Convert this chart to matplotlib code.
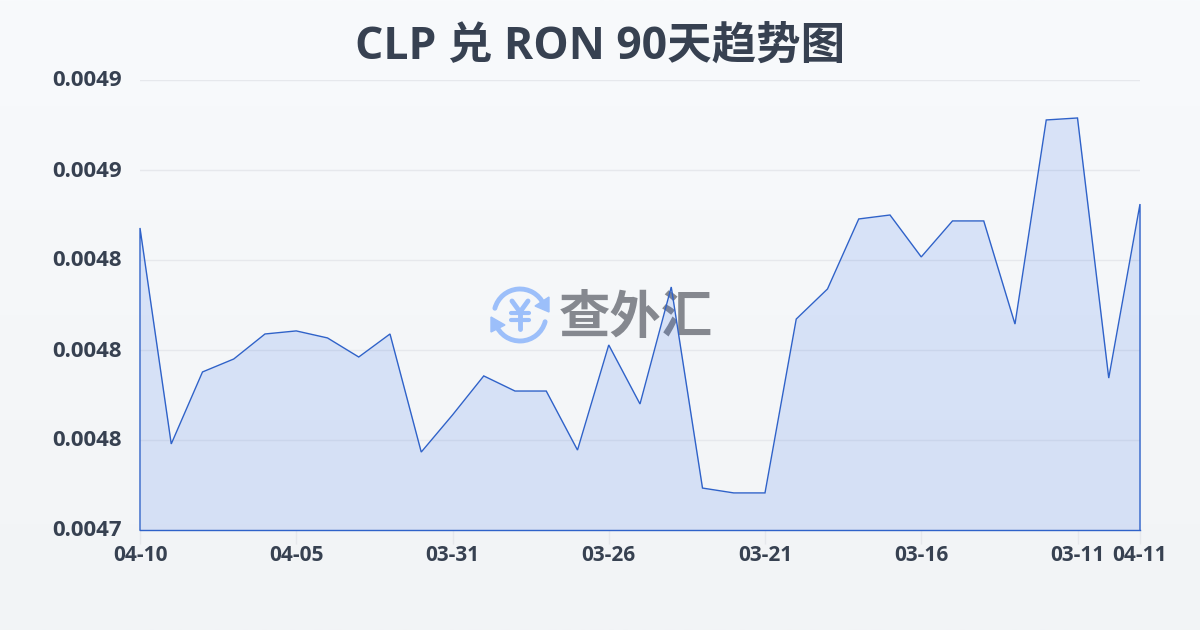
import numpy as np
import matplotlib
matplotlib.use('Agg')
import matplotlib.pyplot as plt
from matplotlib.patches import Arc, Polygon
from matplotlib.transforms import ScaledTranslation

plt.rcParams['font.family'] = ['Open Sans', 'Noto Sans CJK SC', 'DejaVu Sans']

# CLP 兑 RON (ordem do eixo, esquerda para direita)
rates = [0.0048678, 0.0047478, 0.0047878, 0.0047950, 0.0048089, 0.0048106, 0.0048067,
         0.0047961, 0.0048089, 0.0047433, 0.0047639, 0.0047856, 0.0047772, 0.0047772,
         0.0047444, 0.0048028, 0.0047700, 0.0048350, 0.0047233, 0.0047206, 0.0047206,
         0.0048172, 0.0048339, 0.0048728, 0.0048750, 0.0048517, 0.0048717, 0.0048717,
         0.0048144, 0.0049278, 0.0049289, 0.0047844, 0.0048811]
xtick_pos = [0, 5, 10, 15, 20, 25, 30, 32]
xtick_labels = ['04-10', '04-05', '03-31', '03-26', '03-21', '03-16', '03-11', '04-11']
ytick_vals = [0.0047, 0.00475, 0.0048, 0.00485, 0.0049, 0.00495]
ytick_labels = ['0.0047', '0.0048', '0.0048', '0.0048', '0.0049', '0.0049']
title = 'CLP 兑 RON 90天趋势图'
logo_text = '查外汇'

W, H = 1200, 630
fig = plt.figure(figsize=(W / 100, H / 100), dpi=100)

# fundo em gradiente + logo, em coordenadas de pixel
bg = fig.add_axes([0, 0, 1, 1], zorder=0)
bg.set_xlim(0, W)
bg.set_ylim(H, 0)
bg.axis('off')
grad = np.linspace(0, 1, 256).reshape(-1, 1, 1)
top = np.array([0xf8, 0xfa, 0xfc]) / 255
bottom = np.array([0xf2, 0xf4, 0xf6]) / 255
bg.imshow(top + (bottom - top) * grad, extent=[0, W, H, 0], aspect='auto')

logo_blue = '#9cbffa'
cx, cy, r = 520, 315, 26
bg.add_patch(Arc((cx, cy), 2 * r, 2 * r, theta1=195, theta2=335, color=logo_blue, lw=3.5, capstyle='round'))
bg.add_patch(Arc((cx, cy), 2 * r, 2 * r, theta1=15, theta2=160, color=logo_blue, lw=3.5, capstyle='round'))
bg.add_patch(Polygon([[549, 297], [549, 312], [535, 306]], color=logo_blue))
bg.add_patch(Polygon([[491, 317], [491, 332], [505, 325]], color=logo_blue))
# iene desenhado com tracos, a fonte fica fina demais
bg.plot([512, 520, 528], [301, 312, 301], color=logo_blue, lw=3.5, solid_capstyle='round')
bg.plot([520, 520], [312, 329], color=logo_blue, lw=3.5, solid_capstyle='round')
bg.plot([511, 529], [313, 313], color=logo_blue, lw=3, solid_capstyle='round')
bg.plot([511, 529], [320, 320], color=logo_blue, lw=3, solid_capstyle='round')
bg.text(636, 320, logo_text, fontsize=37, fontweight='bold', color='#85888f', ha='center', va='center')

ax = fig.add_axes([140 / W, 1 - 530 / H, 1000 / W, 450 / H], zorder=1)
ax.patch.set_alpha(0)
x = np.arange(len(rates))
ax.fill_between(x, rates, 0.0047, color='#2563eb', alpha=0.14, lw=0)
ax.plot(np.r_[x[0], x, x[-1]], np.r_[0.0047, rates, 0.0047], color='#2f62c9', lw=1,
        solid_joinstyle='miter', clip_on=False)
ax.set_xlim(0, 32)
ax.set_ylim(0.0047, 0.00495)
ax.set_xticks(xtick_pos, xtick_labels)
ax.set_yticks(ytick_vals, ytick_labels)
ax.grid(axis='y', color='#e6e8ec', lw=1)
ax.set_axisbelow(True)
for s in ['top', 'right', 'left']:
    ax.spines[s].set_visible(False)
ax.spines['bottom'].set_color('#2f62c9')
ax.spines['bottom'].set_linewidth(1)
ax.tick_params(axis='y', length=0, pad=13, labelsize=16, labelcolor='#374151')
ax.tick_params(axis='x', length=10, width=1, color='#e6e8ec', pad=1, labelsize=15, labelcolor='#374151')
up = ScaledTranslation(0, 1.5 / 100, fig.dpi_scale_trans)
for t in ax.get_yticklabels():
    t.set_fontweight('bold')
    t.set_transform(t.get_transform() + up)
for t in ax.get_xticklabels():
    t.set_fontweight('bold')

fig.text(600 / W, 1 - 47 / H, title, fontsize=32, fontweight='bold', color='#374151', ha='center', va='center')
fig.savefig('out.png', dpi=100)
